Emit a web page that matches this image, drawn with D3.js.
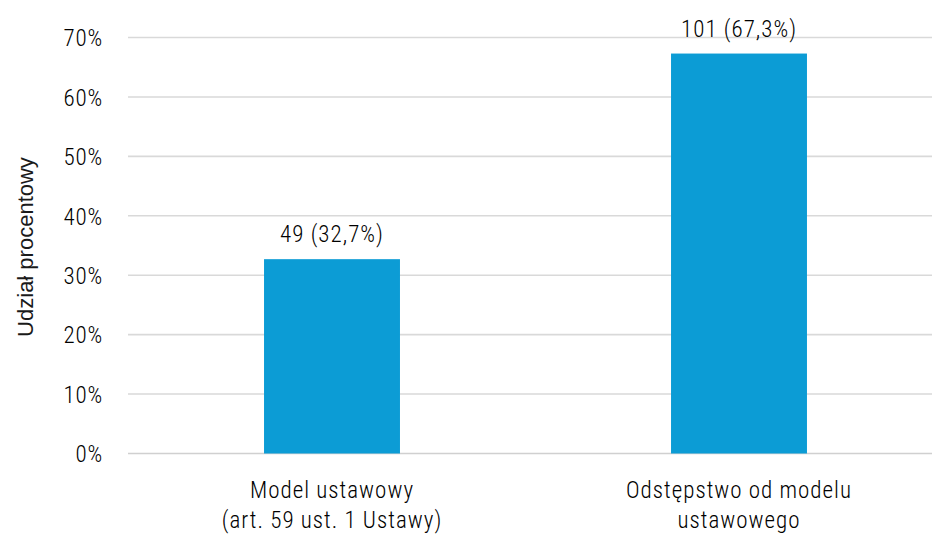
<!DOCTYPE html>
<html><head><meta charset="utf-8">
<script src="https://cdn.jsdelivr.net/npm/d3@7"></script>
<style>
html,body{margin:0;padding:0;background:#fff;overflow:hidden}
text{font-family:"Liberation Sans Narrow","Roboto Condensed","Liberation Sans",sans-serif;fill:#000;font-weight:300}
</style></head>
<body><svg id="c" width="932" height="534"></svg>
<script>
const categories = [["Model ustawowy","(art. 59 ust. 1 Ustawy)"],["Odstępstwo od modelu","ustawowego"]];
const counts = [49, 101];
const percents = [32.7, 67.3];
const percentLabels = ["32,7%", "67,3%"];
const yTicks = [0,10,20,30,40,50,60,70];
const yTitle = "Udział procentowy";

const svg = d3.select("#c");
const x = d3.scaleBand().domain(d3.range(categories.length)).range([128.5, 942.5]).paddingInner(0.666).paddingOuter(0.333);
const y = d3.scaleLinear().domain([0,70]).range([453.5, 37.5]);

// gridlines
svg.append("g").selectAll("line").data(yTicks).join("line")
  .attr("x1",128).attr("x2",932).attr("y1",d=>y(d)).attr("y2",d=>y(d))
  .attr("stroke",d=>d===0?"#d0d0d0":"#d9d9d9").attr("stroke-width",1.6);

// y labels
const yAxis = d3.axisLeft(y).tickValues(yTicks).tickFormat(d=>d+"%").tickSize(0).tickPadding(0);
const ga = svg.append("g").attr("transform","translate(103,0)").call(yAxis);
ga.select(".domain").remove();
ga.selectAll("text").attr("font-size",23).attr("fill","#000").attr("dy","0.36em")
  .attr("letter-spacing","0.8px")
  .style("font-family",'"Liberation Sans Narrow","Roboto Condensed",sans-serif');

// bars
svg.append("g").selectAll("rect").data(percents).join("rect")
  .attr("x",(d,i)=>x(i)).attr("width",x.bandwidth())
  .attr("y",d=>y(d)).attr("height",d=>y(0)-y(d)).attr("fill","#0c9cd5");

// value labels
svg.append("g").selectAll("text").data(percents).join("text")
  .attr("x",(d,i)=>x(i)+x.bandwidth()/2).attr("y",d=>y(d)-17)
  .attr("text-anchor","middle").attr("font-size",23).attr("letter-spacing","1px")
  .text((d,i)=>counts[i]+" ("+percentLabels[i]+")");

// category labels
const cl = svg.append("g").selectAll("text").data(categories).join("text")
  .attr("x",(d,i)=>x(i)+x.bandwidth()/2).attr("y",498)
  .attr("text-anchor","middle").attr("font-size",23).attr("letter-spacing","1px");
cl.selectAll("tspan").data(d=>d).join("tspan")
  .attr("x",function(){return this.parentNode.getAttribute("x");})
  .attr("dy",(d,j)=>j===0?0:30).text(d=>d);

// y title
svg.append("text").attr("transform","translate(33,247) rotate(-90)")
  .attr("text-anchor","middle").attr("font-size",22)
  .style("font-family",'"Liberation Sans",Arial,sans-serif').style("font-weight","400")
  .style("fill","#1a1a1a").text(yTitle);
</script></body></html>
